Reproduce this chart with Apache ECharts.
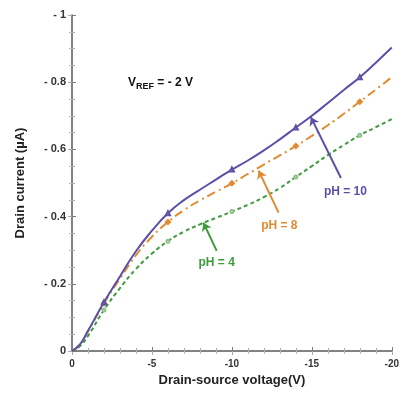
<!DOCTYPE html>
<html>
<head>
<meta charset="utf-8">
<script src="https://cdn.jsdelivr.net/npm/echarts@6/dist/echarts.min.js"></script>
<style>html,body{margin:0;padding:0;background:#fff}#c{width:402px;height:394px}</style>
</head>
<body>
<div id="c"></div>
<script>
// Drain-source voltage (V)
var vds = [0, -0.5, -1, -2, -3, -4, -5, -6, -7, -8, -9, -10, -11, -12, -13, -14, -15, -16, -17, -18, -19, -20];
// Drain current (µA)
var pH10 = [0, -0.02, -0.06, -0.145, -0.222, -0.297, -0.358, -0.41, -0.449, -0.48, -0.51, -0.54, -0.567, -0.597, -0.63, -0.665, -0.70, -0.738, -0.777, -0.815, -0.858, -0.903];
var pH8  = [0, -0.02, -0.058, -0.142, -0.215, -0.285, -0.34, -0.384, -0.419, -0.448, -0.474, -0.499, -0.527, -0.555, -0.582, -0.61, -0.64, -0.672, -0.706, -0.742, -0.778, -0.815];
var pH4  = [0, -0.015, -0.045, -0.122, -0.187, -0.244, -0.29, -0.327, -0.355, -0.377, -0.396, -0.415, -0.435, -0.458, -0.485, -0.518, -0.55, -0.583, -0.613, -0.642, -0.666, -0.69];
var markerX = [-2, -6, -10, -14, -18];
var xTicks = [0, -5, -10, -15, -20];
var yTicks = ['0', '- 0.2', '- 0.4', '- 0.6', '- 0.8', '- 1'];
// annotation anchors (data units): [textX, textY, arrowStartX, arrowStartY, arrowTipX, arrowTipY]
var ann10 = [-17.1, -0.474, -16.82, -0.515, -14.94, -0.696];
var ann8  = [-12.97, -0.372, -12.92, -0.412, -11.67, -0.537];
var ann4  = [-9.05, -0.264, -9.05, -0.298, -8.22, -0.382];

var C10 = '#5b50a8', C8 = '#e08b32', C4 = '#3f9b3d';
var FONT = 'Liberation Sans';

function pairs(ys){ return vds.map(function(x,i){ return [x, ys[i]]; }); }
function symSize(s){ return function(v){ return markerX.indexOf(v[0]) >= 0 ? s : 0; }; }
function annot(a, label, color){
  return {
    markLine: {
      silent: true, animation: false,
      symbol: ['none', 'arrow'], symbolSize: 8,
      label: {show: false},
      lineStyle: {color: color, width: 2, type: 'solid'},
      data: [[{coord: [a[2], a[3]], symbol: 'none'}, {coord: [a[4], a[5]], symbol: 'arrow', symbolSize: 8}]]
    },
    markPoint: {
      silent: true, animation: false,
      symbol: 'circle', symbolSize: 0,
      label: {show: true, position: 'inside', formatter: label, color: color,
              fontFamily: FONT, fontWeight: 'bold', fontSize: 12},
      data: [{coord: [a[0], a[1]]}]
    }
  };
}

var chart = echarts.init(document.getElementById('c'), null, {renderer: 'canvas'});
var axisCol = '#7a7a7a';
var s10 = Object.assign({
  type: 'line', name: 'pH = 10', data: pairs(pH10), smooth: 0.5,
  symbol: 'emptyTriangle', symbolSize: symSize(4), showAllSymbol: true,
  itemStyle: {color: C10, borderWidth: 1},
  lineStyle: {color: C10, width: 2, type: 'solid'}, z: 5
}, annot(ann10, 'pH = 10', C10));
var s8 = Object.assign({
  type: 'line', name: 'pH = 8', data: pairs(pH8), smooth: 0.5,
  symbol: 'diamond', symbolSize: symSize(7), showAllSymbol: true,
  itemStyle: {color: C8},
  lineStyle: {color: C8, width: 2, type: [9, 4, 2, 4]}, z: 4
}, annot(ann8, 'pH = 8', C8));
var s4 = Object.assign({
  type: 'line', name: 'pH = 4', data: pairs(pH4), smooth: 0.5,
  symbol: 'emptyCircle', symbolSize: symSize(3), showAllSymbol: true,
  itemStyle: {color: '#8cc08a', borderWidth: 1},
  lineStyle: {color: C4, width: 2, type: [4, 3]}, z: 3
}, annot(ann4, 'pH = 4', C4));

chart.setOption({
  animation: false,
  backgroundColor: '#fff',
  grid: {left: 72, right: 9, top: 15, bottom: 43, containLabel: false},
  xAxis: [{
    type: 'value', min: -20, max: 0, interval: 5, inverse: true,
    name: 'Drain-source voltage(V)', nameLocation: 'middle', nameGap: 23,
    nameTextStyle: {fontFamily: FONT, fontWeight: 'bold', fontSize: 13, color: '#222'},
    axisLine: {show: true, lineStyle: {color: axisCol, width: 1.5}},
    axisTick: {show: true, inside: true, length: 4, lineStyle: {color: axisCol}},
    minorTick: {show: true, splitNumber: 5, length: 3, lineStyle: {color: '#aaa'}},
    splitLine: {show: false},
    axisLabel: {fontFamily: FONT, fontWeight: 'bold', fontSize: 10, color: '#333', margin: 8,
      formatter: function(v){ return xTicks.indexOf(v) >= 0 ? String(v) : ''; }}
  }, {
    type: 'value', min: -20, max: 0, interval: 5, inverse: true, position: 'top',
    axisLine: {show: true, lineStyle: {color: axisCol, width: 1.5}},
    axisTick: {show: true, inside: true, length: 4, lineStyle: {color: '#aaa'}},
    minorTick: {show: true, splitNumber: 5, length: 3, lineStyle: {color: '#bbb'}},
    axisLabel: {show: false}, splitLine: {show: false}
  }],
  yAxis: [{
    type: 'value', min: -1, max: 0, interval: 0.2, inverse: true,
    name: 'Drain current (µA)', nameLocation: 'middle', nameGap: 45, nameRotate: 90,
    nameTextStyle: {fontFamily: FONT, fontWeight: 'bold', fontSize: 13, color: '#222'},
    axisLine: {show: true, lineStyle: {color: axisCol, width: 1.5}},
    axisTick: {show: true, inside: true, length: 4, lineStyle: {color: axisCol}},
    minorTick: {show: true, splitNumber: 4, length: 3, lineStyle: {color: '#aaa'}},
    splitLine: {show: false},
    axisLabel: {fontFamily: FONT, fontWeight: 'bold', fontSize: 11, color: '#333', margin: 6,
      formatter: function(v){ var k = Math.round(-v / 0.2); return yTicks[k] !== undefined ? yTicks[k] : ''; }}
  }, {
    type: 'value', min: -1, max: 0, interval: 0.2, inverse: true, position: 'right',
    axisLine: {show: true, lineStyle: {color: axisCol, width: 1.5}},
    axisTick: {show: true, inside: true, length: 4, lineStyle: {color: '#aaa'}},
    minorTick: {show: true, splitNumber: 4, length: 3, lineStyle: {color: '#bbb'}},
    axisLabel: {show: false}, splitLine: {show: false}
  }],
  series: [s4, s8, s10, {
    type: 'scatter', data: [], silent: true,
    markPoint: {
      silent: true, symbolSize: 0,
      label: {show: true, position: 'right', distance: 0, color: '#111', fontFamily: FONT, fontWeight: 'bold', fontSize: 12,
        formatter: '{a|V}{b|REF}{a| = - 2 V}',
        rich: {a: {fontFamily: FONT, fontWeight: 'bold', fontSize: 12, color: '#111'},
               b: {fontFamily: FONT, fontWeight: 'bold', fontSize: 9, color: '#111', padding: [8, 0, 0, 0]}}},
      data: [{coord: [-3.5, -0.8]}]
    }
  }]
});
</script>
</body>
</html>
